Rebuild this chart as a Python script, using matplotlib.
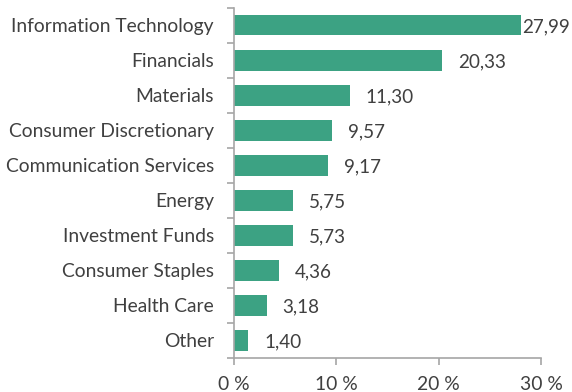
import matplotlib
matplotlib.use("Agg")
import matplotlib.pyplot as plt
import numpy as np

categories = ["Information Technology", "Financials", "Materials",
              "Consumer Discretionary", "Communication Services", "Energy",
              "Investment Funds", "Consumer Staples", "Health Care", "Other"]
values = [27.99, 20.33, 11.30, 9.57, 9.17, 5.75, 5.73, 4.36, 3.18, 1.40]
xticks = [0, 10, 20, 30]

bar_color = "#3ca283"
text_color = "#404040"
axis_color = "#a6a6a6"

plt.rcParams["font.family"] = ["Lato", "DejaVu Sans"]

fig = plt.figure(figsize=(5.72, 3.92), dpi=100)
ax = fig.add_axes([0.409, 0.087, 0.537, 0.893])

y = np.arange(len(categories))
ax.barh(y, values, height=0.58, color=bar_color)
xmax = 30
for yi, v in zip(y, values):
    # labels near the right edge are pulled closer so they stay inside the figure
    offset = 1 if v > 0.85 * xmax else 11.5
    ax.annotate(f"{v:.2f}".replace(".", ","), (v, yi), xytext=(offset, -1),
                textcoords="offset points", va="center", ha="left",
                fontsize=13.6, color=text_color)

ax.set_ylim(len(categories) - 0.5, -0.5)
ax.set_xlim(0, xmax)
ax.set_yticks(y)
ax.set_yticklabels(categories)
ax.set_yticks(np.arange(-0.5, len(categories)), minor=True)
ax.tick_params(axis="y", which="major", length=0, pad=14.4, labelsize=13.9,
               labelcolor=text_color)
ax.tick_params(axis="y", which="minor", length=5, color=axis_color, width=1.2)
ax.set_xticks(xticks)
ax.set_xticklabels([f"{t} %" for t in xticks])
ax.tick_params(axis="x", length=5, color=axis_color, width=1.2, pad=8,
               labelsize=13.9, labelcolor=text_color)

for s in ["top", "right"]:
    ax.spines[s].set_visible(False)
for s in ["left", "bottom"]:
    ax.spines[s].set_color(axis_color)
    ax.spines[s].set_linewidth(1.2)

fig.savefig("out.png", dpi=100)
